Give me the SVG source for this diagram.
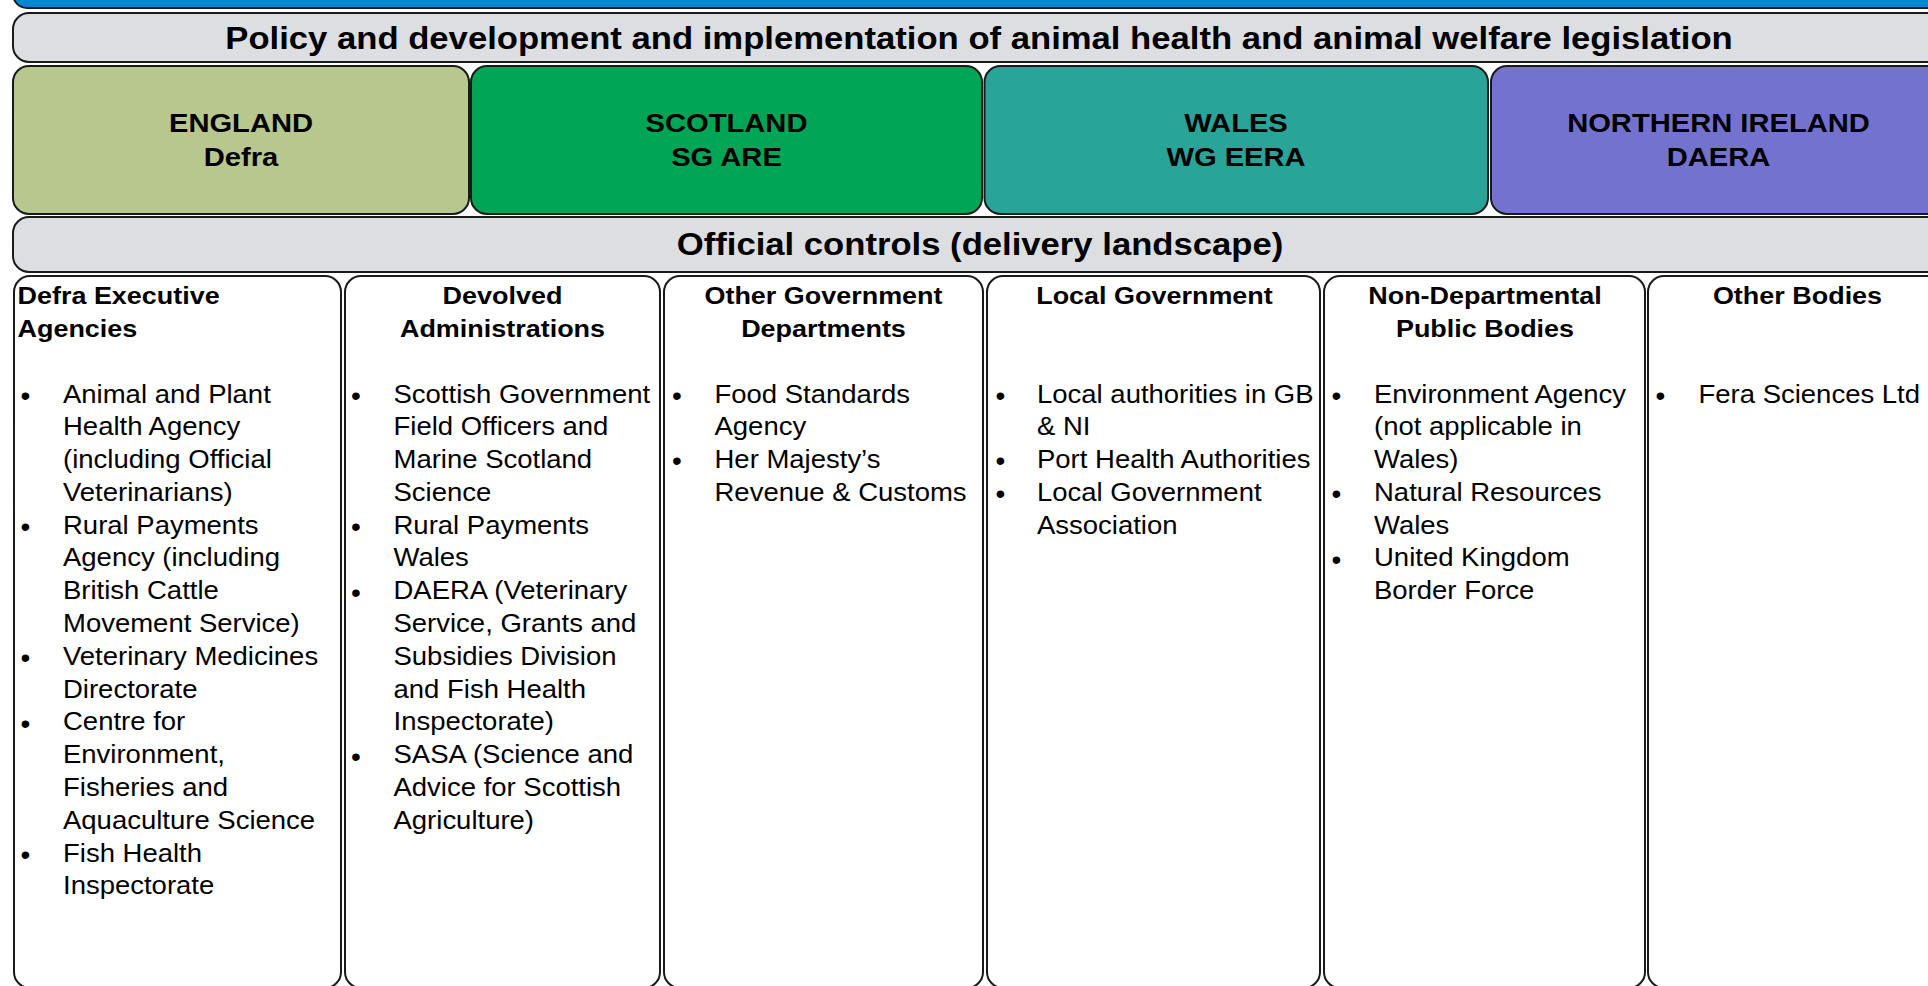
<svg xmlns="http://www.w3.org/2000/svg" width="1928" height="986" viewBox="0 0 1928 986">
<style>
.bar{fill:#dddee1;stroke:#1a1a1a;stroke-width:2}
.col{fill:#ffffff;stroke:#1a1a1a;stroke-width:2}
.nat{stroke:#1a1a1a;stroke-width:2}
.t{font-family:"Liberation Sans",Arial,sans-serif;fill:#000}
.ti{font-weight:bold;font-size:31.5px;text-anchor:middle}
.n{font-weight:bold;font-size:26.5px;text-anchor:middle}
.h{font-weight:bold;font-size:24.5px}
.hc{font-weight:bold;font-size:24.5px;text-anchor:middle}
.b{font-size:25px}
.bu{font-size:28px}
</style>
<rect width="1928" height="986" fill="#ffffff"/>
<g id="top-band">
<rect x="13" y="-30" width="1934" height="38" rx="14" fill="#0088d5" stroke="#1a1a1a" stroke-width="2"/>
</g>
<g id="policy-bar">
<rect class="bar" x="13" y="13" width="1934" height="49" rx="16"/>
<text class="t ti" transform="translate(979,48.5) scale(1.1,1)">Policy and development and implementation of animal health and animal welfare legislation</text>
</g>
<g id="england">
<rect class="nat" x="13" y="66" width="456" height="148" rx="16" fill="#b8c78e"/>
<text class="t n" transform="translate(241,131.5) scale(1.1,1)"><tspan x="0" y="0">ENGLAND</tspan><tspan x="0" y="35">Defra</tspan></text>
</g>
<g id="scotland">
<rect class="nat" x="471" y="66" width="511" height="148" rx="16" fill="#00a555"/>
<text class="t n" transform="translate(726.5,131.5) scale(1.1,1)"><tspan x="0" y="0">SCOTLAND</tspan><tspan x="0" y="35">SG ARE</tspan></text>
</g>
<g id="wales">
<rect class="nat" x="984.5" y="66" width="503.5" height="148" rx="16" fill="#29a499"/>
<text class="t n" transform="translate(1236,131.5) scale(1.1,1)"><tspan x="0" y="0">WALES</tspan><tspan x="0" y="35">WG EERA</tspan></text>
</g>
<g id="northern-ireland">
<rect class="nat" x="1491" y="66" width="456" height="148" rx="16" fill="#7373cf"/>
<text class="t n" transform="translate(1718.5,131.5) scale(1.1,1)"><tspan x="0" y="0">NORTHERN IRELAND</tspan><tspan x="0" y="35">DAERA</tspan></text>
</g>
<g id="official-controls-bar">
<rect class="bar" x="13" y="217" width="1934" height="55" rx="16"/>
<text class="t ti" transform="translate(980,255) scale(1.1,1)">Official controls (delivery landscape)</text>
</g>
<g id="col-defra-executive-agencies">
<rect class="col" x="14" y="276" width="327" height="712" rx="16"/>
<text class="t h" transform="translate(17.5,304) scale(1.1,1)"><tspan x="0" y="0">Defra Executive</tspan><tspan x="0" y="32.8">Agencies</tspan></text>
<text class="t bu" x="20.5" y="404.7">•</text>
<text class="t bu" x="20.5" y="535.9">•</text>
<text class="t bu" x="20.5" y="667.1">•</text>
<text class="t bu" x="20.5" y="732.7">•</text>
<text class="t bu" x="20.5" y="863.9">•</text>
<text class="t b" transform="translate(63,402.5) scale(1.1,1)"><tspan x="0" y="0">Animal and Plant</tspan><tspan x="0" y="32.8">Health Agency</tspan><tspan x="0" y="65.6">(including Official</tspan><tspan x="0" y="98.4">Veterinarians)</tspan><tspan x="0" y="131.2">Rural Payments</tspan><tspan x="0" y="164">Agency (including</tspan><tspan x="0" y="196.8">British Cattle</tspan><tspan x="0" y="229.6">Movement Service)</tspan><tspan x="0" y="262.4">Veterinary Medicines</tspan><tspan x="0" y="295.2">Directorate</tspan><tspan x="0" y="328">Centre for</tspan><tspan x="0" y="360.8">Environment,</tspan><tspan x="0" y="393.6">Fisheries and</tspan><tspan x="0" y="426.4">Aquaculture Science</tspan><tspan x="0" y="459.2">Fish Health</tspan><tspan x="0" y="492">Inspectorate</tspan></text>
</g>
<g id="col-devolved-administrations">
<rect class="col" x="345" y="276" width="315" height="712" rx="16"/>
<text class="t hc" transform="translate(502.5,304) scale(1.1,1)"><tspan x="0" y="0">Devolved</tspan><tspan x="0" y="32.8">Administrations</tspan></text>
<text class="t bu" x="351" y="404.7">•</text>
<text class="t bu" x="351" y="535.9">•</text>
<text class="t bu" x="351" y="601.5">•</text>
<text class="t bu" x="351" y="765.5">•</text>
<text class="t b" transform="translate(393.5,402.5) scale(1.1,1)"><tspan x="0" y="0">Scottish Government</tspan><tspan x="0" y="32.8">Field Officers and</tspan><tspan x="0" y="65.6">Marine Scotland</tspan><tspan x="0" y="98.4">Science</tspan><tspan x="0" y="131.2">Rural Payments</tspan><tspan x="0" y="164">Wales</tspan><tspan x="0" y="196.8">DAERA (Veterinary</tspan><tspan x="0" y="229.6">Service, Grants and</tspan><tspan x="0" y="262.4">Subsidies Division</tspan><tspan x="0" y="295.2">and Fish Health</tspan><tspan x="0" y="328">Inspectorate)</tspan><tspan x="0" y="360.8">SASA (Science and</tspan><tspan x="0" y="393.6">Advice for Scottish</tspan><tspan x="0" y="426.4">Agriculture)</tspan></text>
</g>
<g id="col-other-government-departments">
<rect class="col" x="664" y="276" width="319" height="712" rx="16"/>
<text class="t hc" transform="translate(823.5,304) scale(1.1,1)"><tspan x="0" y="0">Other Government</tspan><tspan x="0" y="32.8">Departments</tspan></text>
<text class="t bu" x="672" y="404.7">•</text>
<text class="t bu" x="672" y="470.3">•</text>
<text class="t b" transform="translate(714.5,402.5) scale(1.1,1)"><tspan x="0" y="0">Food Standards</tspan><tspan x="0" y="32.8">Agency</tspan><tspan x="0" y="65.6">Her Majesty’s</tspan><tspan x="0" y="98.4">Revenue &amp; Customs</tspan></text>
</g>
<g id="col-local-government">
<rect class="col" x="987" y="276" width="333" height="712" rx="16"/>
<text class="t hc" transform="translate(1154.5,304) scale(1.1,1)">Local Government</text>
<text class="t bu" x="995.5" y="404.7">•</text>
<text class="t bu" x="995.5" y="470.3">•</text>
<text class="t bu" x="995.5" y="503.1">•</text>
<text class="t b" transform="translate(1037,402.5) scale(1.1,1)"><tspan x="0" y="0">Local authorities in GB</tspan><tspan x="0" y="32.8">&amp; NI</tspan><tspan x="0" y="65.6">Port Health Authorities</tspan><tspan x="0" y="98.4">Local Government</tspan><tspan x="0" y="131.2">Association</tspan></text>
</g>
<g id="col-non-departmental-public-bodies">
<rect class="col" x="1324" y="276" width="321" height="712" rx="16"/>
<text class="t hc" transform="translate(1485,304) scale(1.1,1)"><tspan x="0" y="0">Non-Departmental</tspan><tspan x="0" y="32.8">Public Bodies</tspan></text>
<text class="t bu" x="1331.5" y="404.7">•</text>
<text class="t bu" x="1331.5" y="503.1">•</text>
<text class="t bu" x="1331.5" y="568.7">•</text>
<text class="t b" transform="translate(1374,402.5) scale(1.1,1)"><tspan x="0" y="0">Environment Agency</tspan><tspan x="0" y="32.8">(not applicable in</tspan><tspan x="0" y="65.6">Wales)</tspan><tspan x="0" y="98.4">Natural Resources</tspan><tspan x="0" y="131.2">Wales</tspan><tspan x="0" y="164">United Kingdom</tspan><tspan x="0" y="196.8">Border Force</tspan></text>
</g>
<g id="col-other-bodies">
<rect class="col" x="1648" y="276" width="300" height="712" rx="16"/>
<text class="t hc" transform="translate(1797.5,304) scale(1.1,1)">Other Bodies</text>
<text class="t bu" x="1655.5" y="404.7">•</text>
<text class="t b" transform="translate(1698.5,402.5) scale(1.1,1)">Fera Sciences Ltd</text>
</g>
<g id="connectors"></g>
</svg>
